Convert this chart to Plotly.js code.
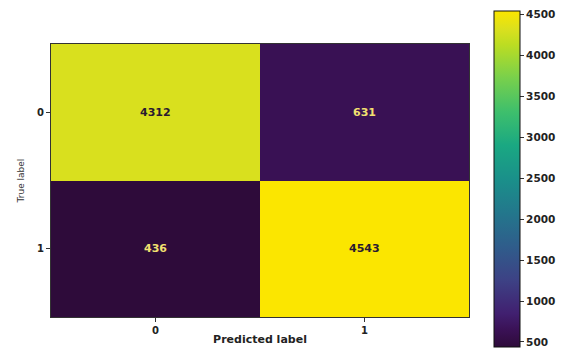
<!DOCTYPE html>
<html>
<head>
<meta charset="utf-8">
<script src="https://cdn.plot.ly/plotly-3.0.1.min.js"></script>
<style>html,body{margin:0;padding:0;background:#fff;}#chart{width:561px;height:349px;}</style>
</head>
<body>
<div id="chart"></div>
<script>
// Data
const predictedLabels = ['0', '1'];
const trueLabels = ['0', '1'];
const row0 = [4312, 631];
const row1 = [436, 4543];
const colorbarTicks = [500, 1000, 1500, 2000, 2500, 3000, 3500, 4000, 4500];

const z = [row0, row1];
const zAll = row0.concat(row1);
const zmin = Math.min.apply(null, zAll);
const zmax = Math.max.apply(null, zAll);

const colorscale = [
  [0.0, '#2e0b3a'],
  [0.05, '#3a1155'],
  [0.1, '#412070'],
  [0.2, '#3d4285'],
  [0.3, '#2f5d8b'],
  [0.4, '#23778c'],
  [0.5, '#1a908a'],
  [0.6, '#1aa882'],
  [0.7, '#3ebf6c'],
  [0.8, '#78d04c'],
  [0.9, '#bcdd22'],
  [0.945, '#dae01e'],
  [1.0, '#fbe600']
];

const xIdx = predictedLabels.map((_, i) => i);
const yIdx = trueLabels.map((_, i) => i);

const trace = {
  type: 'heatmap',
  x: xIdx,
  y: yIdx,
  z: z,
  zmin: zmin,
  zmax: zmax,
  colorscale: colorscale,
  hoverinfo: 'skip',
  colorbar: {
    thickness: 26,
    thicknessmode: 'pixels',
    len: 336,
    lenmode: 'pixels',
    x: 1.0598,
    xanchor: 'left',
    xpad: 0,
    y: -0.1106,
    yanchor: 'bottom',
    ypad: 0,
    outlinewidth: 1,
    outlinecolor: '#111',
    ticks: 'outside',
    ticklen: 4,
    tickwidth: 1,
    tickcolor: '#333',
    tickvals: colorbarTicks,
    ticktext: colorbarTicks.map(String),
    ticklabeloverflow: 'allow',
    tickfont: {family: 'DejaVu Sans', size: 10.5, color: '#222', weight: 'bold'}
  }
};

const mid = (zmin + zmax) / 2;
const annotations = [];
z.forEach((row, yi) => {
  row.forEach((v, xi) => {
    annotations.push({
      x: xIdx[xi], y: yIdx[yi], xref: 'x', yref: 'y',
      text: String(v), showarrow: false,
      font: {family: 'DejaVu Sans', size: 11, weight: 'bold', color: v > mid ? '#2a1a30' : '#f2e070'}
    });
  });
});

const layout = {
  width: 561,
  height: 349,
  margin: {l: 51, r: 92, t: 44, b: 32, pad: 0, autoexpand: false},
  paper_bgcolor: '#ffffff',
  plot_bgcolor: '#ffffff',
  showlegend: false,
  xaxis: {
    range: [-0.5, 1.5],
    tickvals: xIdx,
    ticktext: predictedLabels,
    ticks: 'outside', ticklen: 4, tickwidth: 1, tickcolor: '#333',
    showline: true, mirror: true, linecolor: '#333', linewidth: 1,
    showgrid: false, zeroline: false,
    tickfont: {family: 'DejaVu Sans', size: 10, color: '#222', weight: 'bold'},
    title: {text: 'Predicted label', standoff: 0, font: {family: 'DejaVu Sans', size: 11, color: '#222', weight: 'bold'}},
    automargin: false,
    fixedrange: true
  },
  yaxis: {
    range: [1.5, -0.5],
    tickvals: yIdx,
    ticktext: trueLabels,
    ticks: 'outside', ticklen: 4, tickwidth: 1, tickcolor: '#333',
    showline: true, mirror: true, linecolor: '#333', linewidth: 1,
    showgrid: false, zeroline: false,
    tickfont: {family: 'DejaVu Sans', size: 10, color: '#222', weight: 'bold'},
    title: {text: 'True label', standoff: 10, font: {family: 'DejaVu Sans', size: 9, color: '#333'}},
    automargin: false,
    fixedrange: true
  },
  annotations: annotations
};

Plotly.newPlot('chart', [trace], layout, {staticPlot: true, displayModeBar: false});
</script>
</body>
</html>
